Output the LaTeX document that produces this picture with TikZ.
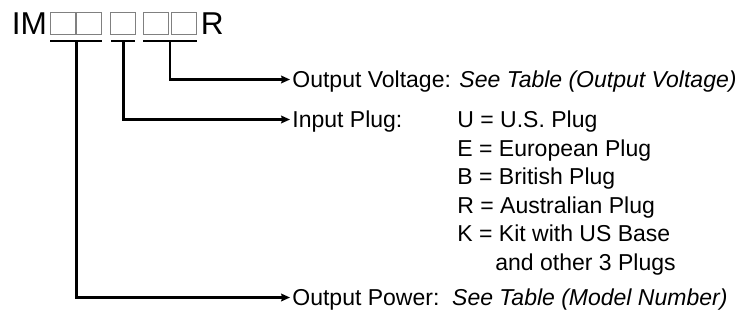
\documentclass[tikz,border=0pt]{standalone}
\usepackage{fontspec}
\setmainfont{Liberation Sans}
\usetikzlibrary{arrows,arrows.meta,positioning}

\begin{document}
\begin{tikzpicture}[
  x=0.5pt, y=-0.5pt,
  every node/.style={font=\fontsize{11.5}{13}\selectfont, inner sep=0pt},
  slot/.style={draw=gray, line width=0.55pt, minimum width=12.5pt, minimum height=11pt},
  label/.style={anchor=west, text height=8.2pt, text depth=0pt, inner xsep=1pt, inner ysep=0pt},
  code/.style={anchor=base west},
  bar/.style={line width=1.1pt},
  lead/.style={draw, -{Stealth[length=4.4pt, width=3.8pt, inset=0.5pt]}, line width=1.1pt}
]
\useasboundingbox (0,0) rectangle (738,322);

% model number with its open positions
\node[anchor=base west, font=\fontsize{15.8}{18}\selectfont] (im) at (11.5,34.5) {IM};
\node[slot] (b1) at (62.8,23.3) {};
\node[slot] (b2) at (89.3,23.3) {};
\node[slot] (b3) at (123,23.3) {};
\node[slot] (b4) at (156,23.3) {};
\node[slot] (b5) at (184,23.3) {};
\node[anchor=base west, font=\fontsize{15.8}{18}\selectfont] (r) at (200.5,34.5) {R};

% groups
\draw[bar] (50,41) -- (102,41);
\draw[bar] (111,41) -- (135,41);
\draw[bar] (143,41) -- (197,41);
\coordinate (pwr) at (76.5,41);
\coordinate (plg) at (123.5,41);
\coordinate (vlt) at (170,41);

% meanings
\node[label] (volt) at (290,79.5) {Output Voltage: \textit{See Table (Output Voltage)}};
\node[label] (plug) at (290,119.5) {Input Plug:};
\node[label] (power) at (290,297.5) {Output Power:\ \ \textit{See Table (Model Number)}};

\foreach \c [count=\i] in {U = U.S. Plug, E = European Plug, B = British Plug,
    R = Australian Plug, K = Kit with US Base}
  \node[code] (code\i) at (457,{127.5+28.5*(\i-1)}) {\c};
\node[code] (code6) at (495,270) {and other 3 Plugs};

\draw[lead] (vlt) |- (volt.west);
\draw[lead] (plg) |- (plug.west);
\draw[lead] (pwr) |- (power.west);
\end{tikzpicture}
\end{document}
